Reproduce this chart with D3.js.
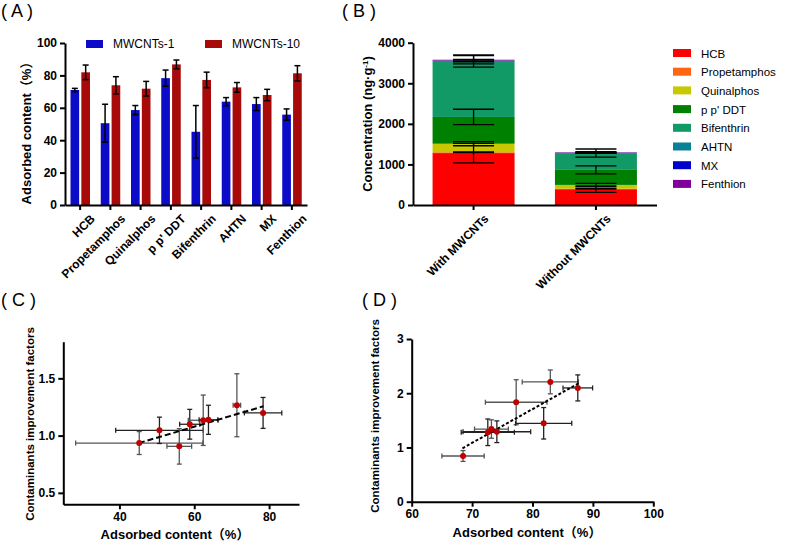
<!DOCTYPE html>
<html>
<head>
<meta charset="utf-8">
<script src="https://cdn.jsdelivr.net/npm/d3@7"></script>
<style>
  body { margin: 0; background: #fff; }
  svg { font-family: "Liberation Sans", Arial, "Noto Sans CJK SC", sans-serif; }
  .axis path, .axis line { stroke: #000; stroke-width: 2; }
  .axis text { font-weight: bold; font-size: 12px; fill: #000; }
</style>
</head>
<body>
<svg id="chart" width="787" height="541"></svg>
<script>
// ---- data ----
var compounds = ["HCB", "Propetamphos", "Quinalphos", "p p' DDT", "Bifenthrin", "AHTN", "MX", "Fenthion"];

// panel A: adsorbed content (%)
var mw1Mean = [71, 50.5, 58.6, 78.3, 45.2, 63.8, 62.3, 55.8];
var mw1Err = [1, 11.7, 2.8, 5, 16.2, 2.5, 4, 3.5];
var mw10Mean = [81.9, 73.9, 71.8, 86.8, 77.2, 72.6, 67.9, 81.3];
var mw10Err = [4.5, 5.3, 4.5, 2.7, 4.8, 3, 3.5, 4.7];
var seriesA = ["MWCNTs-1", "MWCNTs-10"];

// panel B: concentration (ng/g), stacked
var groupsB = ["With MWCNTs", "Without MWCNTs"];
var withMean = [1280, 20, 210, 660, 1380, 5, 5, 20];
var withErr = [240, 10, 50, 190, 150, 15, 30, 100];
var withoutMean = [390, 10, 95, 370, 415, 5, 5, 10];
var withoutErr = [80, 10, 40, 100, 100, 10, 15, 15];

// panel C: improvement factor vs adsorbed content (MWCNTs-1)
var cX = [45.3, 50.7, 56, 58.8, 62.4, 63.8, 71.4, 78.4];
var cXErr = [17, 11.7, 3.3, 2.7, 4, 2.5, 1, 5];
var cY = [0.935, 1.046, 0.906, 1.099, 1.134, 1.138, 1.265, 1.198];
var cYErr = [0.1, 0.115, 0.155, 0.13, 0.22, 0.127, 0.275, 0.135];
var cFitX = [45.2, 78.5];
var cFitY = [0.935, 1.256];

// panel D: improvement factor vs adsorbed content (MWCNTs-10)
var dX = [68.5, 72.6, 73.2, 74.1, 77.3, 81.85, 82.95, 87.5];
var dXErr = [3.5, 4.4, 2.8, 5.6, 5.1, 4.65, 4.65, 2.45];
var dY = [0.843, 1.28, 1.34, 1.29, 1.834, 1.446, 2.209, 2.098];
var dYErr = [0.1, 0.245, 0.17, 0.2, 0.415, 0.29, 0.22, 0.24];
var dFitX = [68.4, 87.6];
var dFitY = [0.985, 2.18];

// ---- style ----
var colorsA = ["#0b0bc8", "#a80a0a"];
var colorsB = ["#ff0000", "#ff6611", "#c8c800", "#008000", "#119966", "#0a8096", "#0000cc", "#80009a"];

var svg = d3.select("#chart");

function title(txt, x, y) {
    svg.append("text").attr("x", x).attr("y", y)
        .attr("font-size", 18).text(txt);
}

function yTitle(txt, x, y, size) {
    return svg.append("text")
        .attr("transform", "translate(" + x + "," + y + ") rotate(-90)")
        .attr("text-anchor", "middle")
        .attr("font-weight", "bold")
        .attr("font-size", size)
        .text(txt);
}

function rotateLabels(axisG) {
    axisG.selectAll(".tick text")
        .attr("text-anchor", "end")
        .attr("transform", "translate(4,3) rotate(-45)")
        .attr("dx", 0).attr("dy", "0.7em");
}

// ================= Panel A =================
title("( A )", 1, 17);
var xA = d3.scaleBand().domain(compounds).range([65, 307]);
var xSub = d3.scaleBand().domain(seriesA).range([5.5, 25]).paddingInner(0.2);
var yA = d3.scaleLinear().domain([0, 100]).range([205, 43]);

var gA = svg.append("g");
seriesA.forEach(function (s, si) {
    var means = si === 0 ? mw1Mean : mw10Mean;
    var errs = si === 0 ? mw1Err : mw10Err;
    compounds.forEach(function (c, i) {
        var x0 = xA(c) + xSub(s);
        var w = xSub.bandwidth();
        gA.append("rect")
            .attr("x", x0).attr("width", w)
            .attr("y", yA(means[i])).attr("height", yA(0) - yA(means[i]))
            .attr("fill", colorsA[si]);
        var cx = x0 + w / 2;
        var top = yA(means[i] + errs[i]), bot = yA(means[i] - errs[i]);
        gA.append("line").attr("x1", cx).attr("x2", cx).attr("y1", top).attr("y2", bot)
            .attr("stroke", "#000").attr("stroke-width", 1.5);
        [top, bot].forEach(function (yy) {
            gA.append("line").attr("x1", cx - 3).attr("x2", cx + 3).attr("y1", yy).attr("y2", yy)
                .attr("stroke", "#000").attr("stroke-width", 1.5);
        });
    });
});

svg.append("g").attr("class", "axis").attr("transform", "translate(65,0)")
    .call(d3.axisLeft(yA).tickValues([0, 20, 40, 60, 80, 100]).tickSize(5).tickSizeOuter(0));
var axA = svg.append("g").attr("class", "axis").attr("transform", "translate(0,205)")
    .call(d3.axisBottom(xA).tickSize(5).tickSizeOuter(0));
rotateLabels(axA);
yTitle("Adsorbed content（%）", 31, 130, 13);

// legend A
seriesA.forEach(function (s, i) {
    var lx = [86, 205][i];
    svg.append("rect").attr("x", lx).attr("y", 40).attr("width", 17).attr("height", 8).attr("fill", colorsA[i]);
    svg.append("text").attr("x", lx + 27).attr("y", 48).attr("font-size", 12).text(s);
});

// ================= Panel B =================
title("( B )", 342, 17);
var xB = d3.scaleBand().domain(groupsB).range([413, 656.5]).paddingInner(0.33).paddingOuter(0.16);
var yB = d3.scaleLinear().domain([0, 4000]).range([205, 42.7]);

var rowsB = groupsB.map(function (g, gi) {
    var row = { group: g };
    compounds.forEach(function (c, i) { row[c] = gi === 0 ? withMean[i] : withoutMean[i]; });
    return row;
});
var stackB = d3.stack().keys(compounds)(rowsB);

var gB = svg.append("g");
stackB.forEach(function (layer, li) {
    layer.forEach(function (d) {
        gB.append("rect")
            .attr("x", xB(d.data.group)).attr("width", xB.bandwidth())
            .attr("y", yB(d[1])).attr("height", Math.max(0, yB(d[0]) - yB(d[1])))
            .attr("fill", colorsB[li]);
    });
});
// error bars at top of each segment
stackB.forEach(function (layer, li) {
    layer.forEach(function (d, gi) {
        var e = gi === 0 ? withErr[li] : withoutErr[li];
        var cx = xB(d.data.group) + xB.bandwidth() / 2;
        var half = xB.bandwidth() / 4;
        var top = yB(d[1] + e), bot = yB(d[1] - e);
        gB.append("line").attr("x1", cx).attr("x2", cx).attr("y1", top).attr("y2", bot)
            .attr("stroke", "#000").attr("stroke-width", 1.3);
        [top, bot].forEach(function (yy) {
            gB.append("line").attr("x1", cx - half).attr("x2", cx + half).attr("y1", yy).attr("y2", yy)
                .attr("stroke", "#000").attr("stroke-width", 1.3);
        });
    });
});

svg.append("g").attr("class", "axis").attr("transform", "translate(413,0)")
    .call(d3.axisLeft(yB).tickValues([0, 1000, 2000, 3000, 4000]).tickFormat(d3.format("d"))
        .tickSize(5).tickSizeOuter(0));
var axB = svg.append("g").attr("class", "axis").attr("transform", "translate(0,205)")
    .call(d3.axisBottom(xB).tickSize(5).tickSizeOuter(0));
rotateLabels(axB);
var tB = yTitle("Concentration (ng·g", 372, 124, 13);
tB.append("tspan").attr("font-size", 8).attr("baseline-shift", "super").text("-1");
tB.append("tspan").text(")");

// legend B
compounds.forEach(function (c, i) {
    var ly = 49 + i * 18.7;
    svg.append("rect").attr("x", 673).attr("y", ly).attr("width", 18).attr("height", 8).attr("fill", colorsB[i]);
    svg.append("text").attr("x", 701).attr("y", ly + 8.5).attr("font-size", 11.5).text(c);
});

// ================= scatter panels =================
function scatter(opts) {
    var x = d3.scaleLinear().domain(opts.xDom).range(opts.xRange);
    var y = d3.scaleLinear().domain(opts.yDom).range(opts.yRange);
    var g = svg.append("g");
    var cap = 2.5;

    opts.xs.forEach(function (xv, i) {
        var px = x(xv), py = y(opts.ys[i]);
        var xl = x(xv - opts.xErr[i]), xr = x(xv + opts.xErr[i]);
        var yt = y(opts.ys[i] + opts.yErr[i]), yb = y(opts.ys[i] - opts.yErr[i]);
        var col = i % 2 ? "#222" : "#555";
        g.append("line").attr("x1", xl).attr("x2", xr).attr("y1", py).attr("y2", py)
            .attr("stroke", col).attr("stroke-width", 1.3);
        g.append("line").attr("x1", px).attr("x2", px).attr("y1", yt).attr("y2", yb)
            .attr("stroke", col).attr("stroke-width", 1.3);
        [xl, xr].forEach(function (xx) {
            g.append("line").attr("x1", xx).attr("x2", xx).attr("y1", py - cap).attr("y2", py + cap)
                .attr("stroke", col).attr("stroke-width", 1.3);
        });
        [yt, yb].forEach(function (yy) {
            g.append("line").attr("x1", px - cap).attr("x2", px + cap).attr("y1", yy).attr("y2", yy)
                .attr("stroke", col).attr("stroke-width", 1.3);
        });
    });

    g.append("line")
        .attr("x1", x(opts.fitX[0])).attr("y1", y(opts.fitY[0]))
        .attr("x2", x(opts.fitX[1])).attr("y2", y(opts.fitY[1]))
        .attr("stroke", "#000").attr("stroke-width", 2)
        .attr("stroke-dasharray", opts.dash);

    opts.xs.forEach(function (xv, i) {
        g.append("circle").attr("cx", x(xv)).attr("cy", y(opts.ys[i])).attr("r", 3)
            .attr("fill", "#c00000");
    });

    svg.append("g").attr("class", "axis").attr("transform", "translate(" + opts.xRange[0] + ",0)")
        .call(d3.axisLeft(y).tickValues(opts.yTicks).tickFormat(opts.yFmt).tickSize(5).tickSizeOuter(0));
    svg.append("g").attr("class", "axis").attr("transform", "translate(0," + opts.yRange[0] + ")")
        .call(d3.axisBottom(x).tickValues(opts.xTicks).tickSize(5).tickSizeOuter(0));
}

// Panel C
title("( C )", 1, 306);
scatter({
    xs: cX, ys: cY, xErr: cXErr, yErr: cYErr, fitX: cFitX, fitY: cFitY,
    xDom: [25, 88], xRange: [63.3, 299], yDom: [0.4, 1.82], yRange: [504.3, 341.7],
    xTicks: [40, 60, 80], yTicks: [0.5, 1.0, 1.5], yFmt: d3.format(".1f"), dash: "6,3"
});
yTitle("Contaminants improvement factors", 34, 424, 11.5);
svg.append("text").attr("x", 175).attr("y", 539).attr("text-anchor", "middle")
    .attr("font-weight", "bold").attr("font-size", 13).text("Adsorbed content（%）");

// Panel D
title("( D )", 362, 306);
scatter({
    xs: dX, ys: dY, xErr: dXErr, yErr: dYErr, fitX: dFitX, fitY: dFitY,
    xDom: [60, 100], xRange: [411.7, 653.3], yDom: [0, 3], yRange: [501.7, 339],
    xTicks: [60, 70, 80, 90, 100], yTicks: [0, 1, 2, 3], yFmt: d3.format("d"), dash: "3,2"
});
yTitle("Contaminants improvement factors", 379, 416, 11.5);
svg.append("text").attr("x", 527).attr("y", 537).attr("text-anchor", "middle")
    .attr("font-weight", "bold").attr("font-size", 13).text("Adsorbed content（%）");
</script>
</body>
</html>
